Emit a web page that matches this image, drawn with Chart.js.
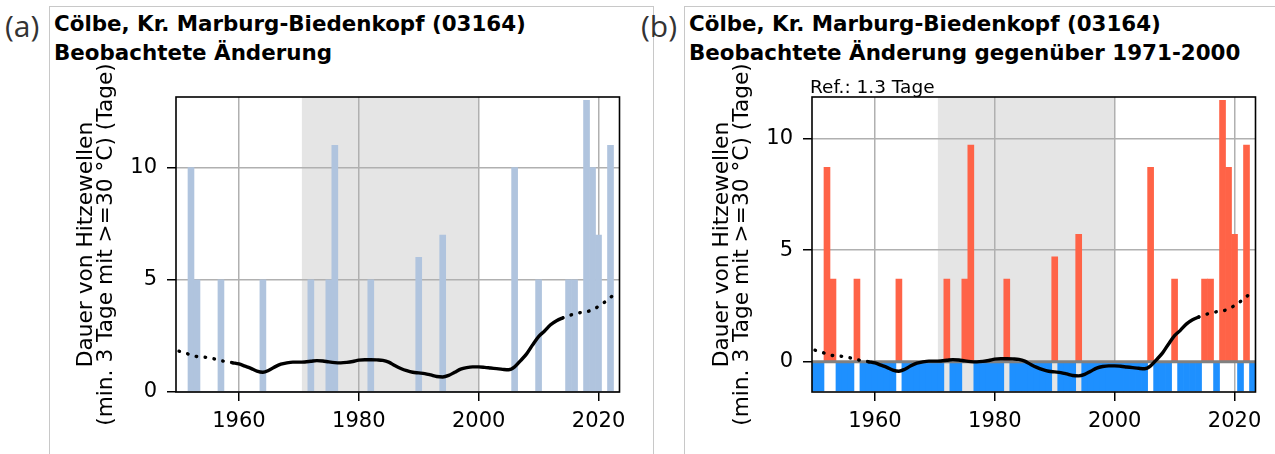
<!DOCTYPE html>
<html lang="de">
<head>
<meta charset="utf-8">
<title>Cölbe – Dauer von Hitzewellen</title>
<script src="https://cdn.jsdelivr.net/npm/chart.js@4.4.1/dist/chart.umd.min.js"></script>
<style>
  html, body { margin: 0; padding: 0; background: #fff; overflow: hidden; }
  body { width: 1275px; height: 454px; position: relative; font-family: "DejaVu Sans", sans-serif; }
  .frame { position: absolute; top: 6px; height: 470px; border: 1px solid #c8c8c8; }
  .tag { position: absolute; top: 11px; font-family: "Open Sans", sans-serif; font-size: 30px; line-height: 30px; color: #333; }
  .title { position: absolute; top: 10px; font-weight: bold; font-size: 21.4px; line-height: 28.5px; color: #000; white-space: nowrap; }
  canvas { position: absolute; top: 50px; }
</style>
</head>
<body>
<div class="frame" style="left:49px; width:603px;"></div>
<div class="frame" style="left:684px; width:700px;"></div>
<div class="tag" style="left:5px;">(a)</div>
<div class="tag" style="left:641px;">(b)</div>
<div class="title" style="left:54px;">Cölbe, Kr. Marburg-Biedenkopf (03164)<br>Beobachtete Änderung</div>
<div class="title" style="left:689px;">Cölbe, Kr. Marburg-Biedenkopf (03164)<br>Beobachtete Änderung gegenüber 1971-2000</div>
<canvas id="panelA" width="600" height="404" style="left:40px;"></canvas>
<canvas id="panelB" width="600" height="404" style="left:676px;"></canvas>
<script>
// ─── Data ────────────────────────────────────────────────────────────────
const YEARS = [
  1950, 1951, 1952, 1953, 1954, 1955, 1956, 1957, 1958, 1959,
  1960, 1961, 1962, 1963, 1964, 1965, 1966, 1967, 1968, 1969,
  1970, 1971, 1972, 1973, 1974, 1975, 1976, 1977, 1978, 1979,
  1980, 1981, 1982, 1983, 1984, 1985, 1986, 1987, 1988, 1989,
  1990, 1991, 1992, 1993, 1994, 1995, 1996, 1997, 1998, 1999,
  2000, 2001, 2002, 2003, 2004, 2005, 2006, 2007, 2008, 2009,
  2010, 2011, 2012, 2013, 2014, 2015, 2016, 2017, 2018, 2019,
  2020, 2021, 2022, 2023
];

// observed heatwave duration per year (days)
const HEAT_DAYS = [
  0, 0, 10, 5, 0, 0, 0, 5, 0, 0,
  0, 0, 0, 0, 5, 0, 0, 0, 0, 0,
  0, 0, 5, 0, 0, 5, 11, 0, 0, 0,
  0, 0, 5, 0, 0, 0, 0, 0, 0, 0,
  6, 0, 0, 0, 7, 0, 0, 0, 0, 0,
  0, 0, 0, 0, 0, 0, 10, 0, 0, 0,
  5, 0, 0, 0, 0, 5, 5, 0, 13, 10,
  7, 0, 11, 0
];

// smoothed curve (days)
const TREND_DAYS = [
  1.82, 1.75, 1.64, 1.58, 1.56, 1.52, 1.47, 1.40, 1.35, 1.30,
  1.25, 1.15, 1.05, 0.93, 0.88, 0.97, 1.12, 1.24, 1.30, 1.33,
  1.33, 1.34, 1.37, 1.40, 1.38, 1.34, 1.31, 1.30, 1.32, 1.36,
  1.42, 1.44, 1.44, 1.43, 1.41, 1.33, 1.18, 1.05, 0.95, 0.88,
  0.85, 0.82, 0.76, 0.69, 0.67, 0.74, 0.88, 1.02, 1.09, 1.12,
  1.12, 1.10, 1.07, 1.04, 1.01, 0.99, 1.12, 1.40, 1.70, 2.10,
  2.47, 2.72, 3.00, 3.18, 3.30, 3.40, 3.48, 3.54, 3.58, 3.66,
  3.82, 4.00, 4.22, 4.40
];

const REF_DAYS  = 1.3;               // mean 1971-2000
const REF_LABEL = "Ref.: 1.3 Tage";
const SHADE_FROM = 1970.5;
const SHADE_TO   = 2000;
const SOLID_FROM = 1959;             // curve is dotted outside this range
const SOLID_TO   = 2014;
const X_TICKS = [1960, 1980, 2000, 2020];
const Y_TICKS = [0, 5, 10];
const Y_TITLE = ["Dauer von Hitzewellen", "(min. 3 Tage mit >=30 °C) (Tage)"];

// ─── Styles ──────────────────────────────────────────────────────────────
const BAR_BLUE   = "#b0c4de";
const BAR_WARM   = "#ff6347";
const BAR_COLD   = "#1e90ff";
const SHADE      = "#e5e5e5";
const GRID       = "#b0b0b0";
const DOT_DASH   = [0.5, 8.5];

Chart.defaults.font.family = "'DejaVu Sans', sans-serif";
Chart.defaults.color = "#000";

const panelDecor = {
  id: "panelDecor",
  beforeDraw(chart) {
    const { ctx, chartArea: a, scales: { x } } = chart;
    const x0 = x.getPixelForValue(SHADE_FROM);
    const x1 = x.getPixelForValue(SHADE_TO);
    ctx.save();
    ctx.fillStyle = SHADE;
    ctx.fillRect(x0, a.top, x1 - x0, a.bottom - a.top);
    ctx.restore();
  },
  afterDatasetDraw(chart, args, opts) {
    if (!opts.zeroLine || args.meta.type !== "bar") return;
    const { ctx, chartArea: a } = chart;
    const y = chart.scales.y.getPixelForValue(0);
    ctx.save();
    ctx.strokeStyle = "#808080";
    ctx.lineWidth = 3;
    ctx.beginPath();
    ctx.moveTo(a.left, y);
    ctx.lineTo(a.right, y);
    ctx.stroke();
    ctx.restore();
  },
  afterDraw(chart, args, opts) {
    const { ctx, chartArea: a } = chart;
    ctx.save();
    ctx.strokeStyle = "#000";
    ctx.lineWidth = 1.6;
    ctx.strokeRect(a.left, a.top, a.right - a.left, a.bottom - a.top);
    if (opts.label) {
      ctx.fillStyle = "#000";
      ctx.font = "18.5px 'DejaVu Sans'";
      ctx.textBaseline = "alphabetic";
      ctx.textAlign = "left";
      ctx.fillText(opts.label, a.left - 2, a.top - 4);
    }
    ctx.restore();
  },
};

function buildPanel(canvasId, cfg) {
  const shift = cfg.shift;
  const bars = YEARS.map((yr, i) => ({ x: yr, y: HEAT_DAYS[i] - shift }));
  const trend = YEARS.map((yr, i) => ({ x: yr, y: TREND_DAYS[i] - shift }));

  const gridOpts = {
    color: GRID, lineWidth: 1.5,
    tickColor: "#000", tickWidth: 1.5, tickLength: 9,
    offset: false,
  };

  return new Chart(document.getElementById(canvasId), {
    type: "bar",
    data: {
      datasets: [
        {
          type: "line",
          data: trend,
          borderColor: "#000",
          borderWidth: 3.4,
          borderCapStyle: "round",
          borderJoinStyle: "round",
          pointRadius: 0,
          cubicInterpolationMode: "monotone",
          segment: {
            borderDash: (ctx) => {
              const yr = YEARS[ctx.p0DataIndex];
              return (yr < SOLID_FROM || yr >= SOLID_TO) ? DOT_DASH : undefined;
            },
          },
          order: 0,
        },
        {
          type: "bar",
          data: bars,
          backgroundColor: bars.map(cfg.barColor),
          borderWidth: 0,
          barPercentage: 1.0,
          categoryPercentage: 1.0,
          order: 1,
        },
      ],
    },
    options: {
      responsive: false,
      animation: false,
      events: [],
      layout: { padding: { left: 0, top: 47, right: 20.5, bottom: 0 } },
      plugins: {
        legend: { display: false },
        tooltip: { enabled: false },
        panelDecor: { zeroLine: cfg.zeroLine, label: cfg.label },
      },
      scales: {
        x: {
          type: "linear",
          min: 1949.5,
          max: 2023.5,
          offset: false,
          afterBuildTicks: (s) => { s.ticks = X_TICKS.map((v) => ({ value: v })); },
          afterFit: (s) => { s.height = 62; },
          grid: gridOpts,
          border: { display: false },
          ticks: {
            color: "#000", font: { size: 21 }, padding: 8,
            maxRotation: 0, autoSkip: false,
            callback: (v) => String(v),
          },
        },
        y: {
          type: "linear",
          min: cfg.yMin,
          max: cfg.yMax,
          afterBuildTicks: (s) => { s.ticks = Y_TICKS.map((v) => ({ value: v })); },
          afterFit: (s) => { s.width = 136; },
          grid: gridOpts,
          border: { display: false },
          title: {
            display: true,
            text: Y_TITLE,
            color: "#000",
            font: { size: 21.7, lineHeight: 0.92 },
            padding: { top: 36, bottom: 0 },
          },
          ticks: {
            color: "#000", font: { size: 21 }, padding: 10,
            autoSkip: false,
            callback: (v) => String(v),
          },
        },
      },
    },
    plugins: [panelDecor],
  });
}

buildPanel("panelA", {
  shift: 0,
  yMin: 0,
  yMax: 13.15,
  barColor: () => BAR_BLUE,
  zeroLine: false,
  label: null,
});

buildPanel("panelB", {
  shift: REF_DAYS,
  yMin: -1.35,
  yMax: 11.85,
  barColor: (d) => (d.y > 0 ? BAR_WARM : BAR_COLD),
  zeroLine: true,
  label: REF_LABEL,
});
</script>
</body>
</html>
